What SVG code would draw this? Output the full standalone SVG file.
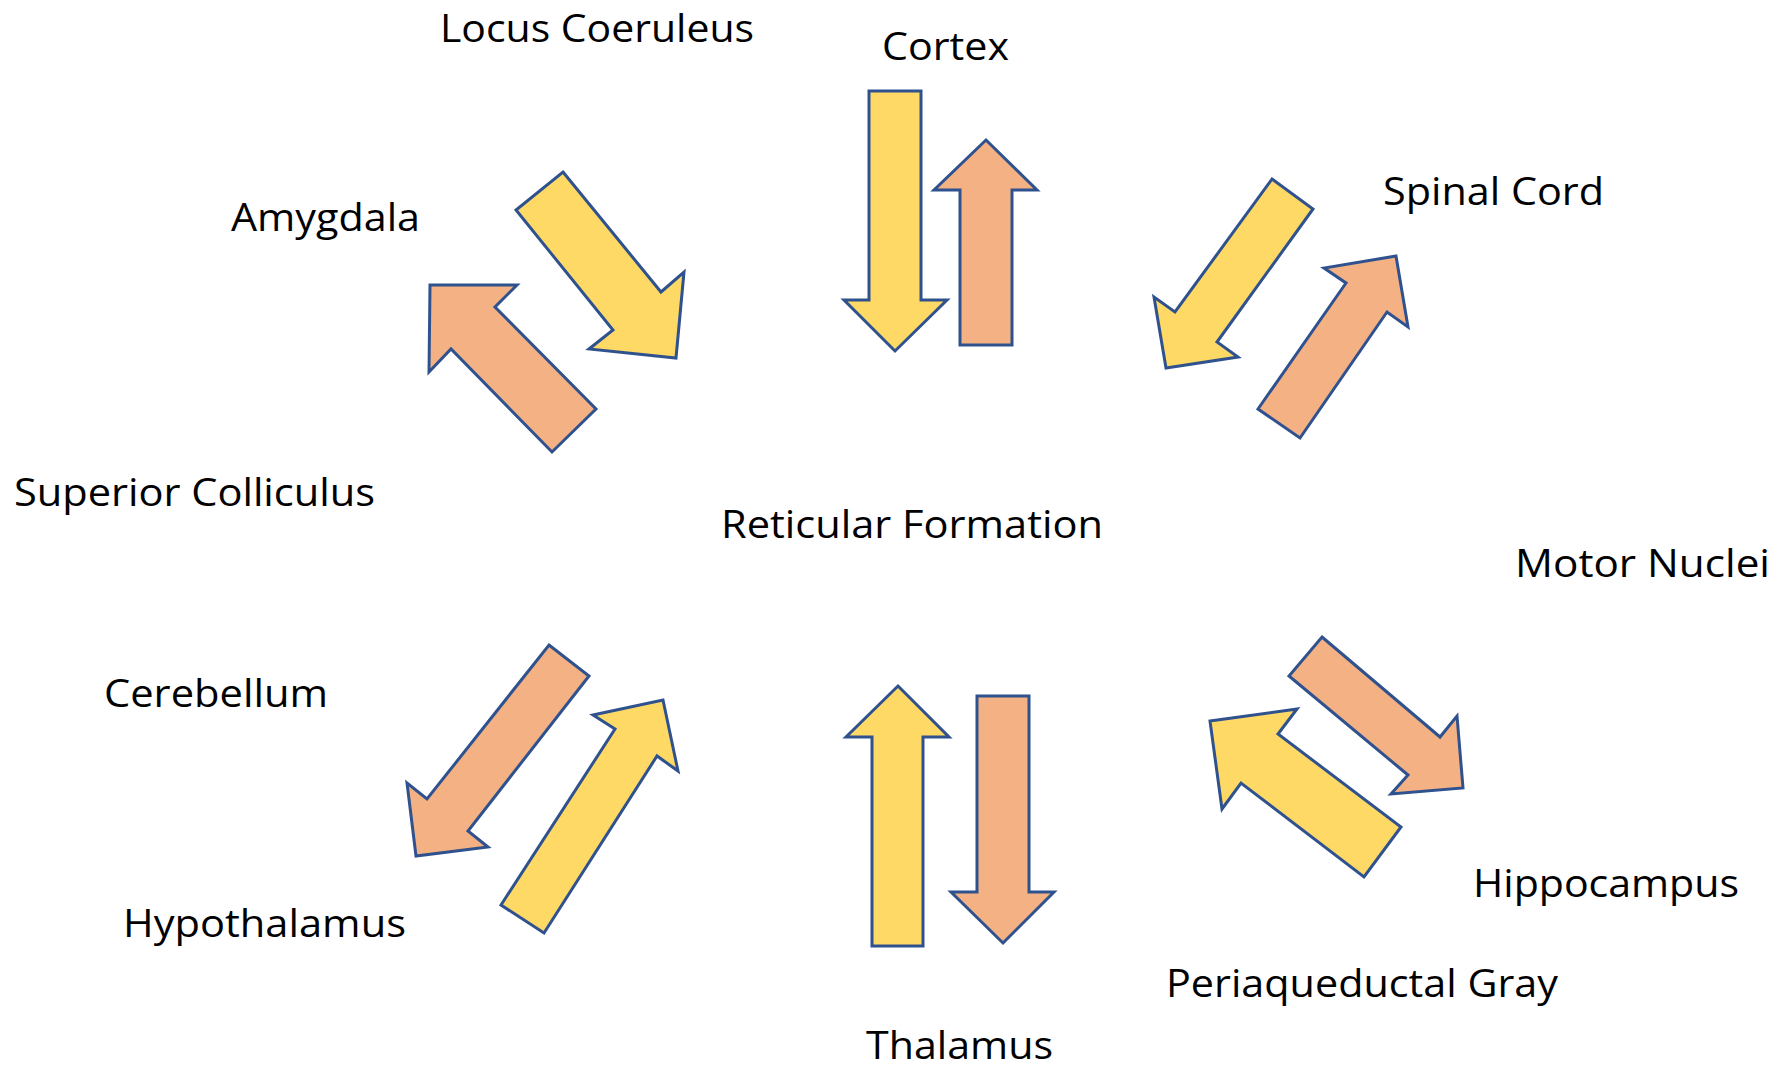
<svg xmlns="http://www.w3.org/2000/svg" width="1783" height="1068" viewBox="0 0 1783 1068">
<style>
.y{fill:#FFD966;stroke:#2F528F;stroke-width:3;stroke-linejoin:miter}
.o{fill:#F4B183;stroke:#2F528F;stroke-width:3;stroke-linejoin:miter}
text{font-family:"Open Sans","Noto Sans","Liberation Sans",sans-serif;font-size:38px;fill:#000}
</style>
<rect width="1783" height="1068" fill="#fff"/>
<g id="connectors">
<polygon class="y" points="563,172 661,292 684,272 676,358 589,349 613,330 516,210"/>
<polygon class="o" points="430,285 517,285 495,307 596,409 552,452 451,349 429,372"/>
<polygon class="y" points="869,91 921,91 921,300 947,300 895,351 844,300 869,300"/>
<polygon class="o" points="986,140 1037,190 1012,190 1012,345 960,345 960,190 934,190"/>
<polygon class="y" points="1272,179 1313,209 1217,342 1238,357 1166,368 1154,297 1175,312"/>
<polygon class="o" points="1396,256 1408,327 1387,312 1300,438 1258,409 1346,283 1324,268"/>
<polygon class="o" points="549,645 589,676 468,831 488,847 416,856 407,783 427,799"/>
<polygon class="y" points="663,700 678,771 657,756 544,933 501,905 615,729 593,715"/>
<polygon class="y" points="898,686 949,737 923,737 923,946 872,946 872,737 846,737"/>
<polygon class="o" points="977,696 1029,696 1029,892 1054,892 1003,943 951,892 977,892"/>
<polygon class="o" points="1322,637 1440,737 1457,716 1463,788 1391,794 1408,775 1289,676"/>
<polygon class="y" points="1210,721 1297,709 1278,734 1401,827 1364,877 1241,783 1222,809"/>
</g>
<g id="reticular-formation"><text x="721" y="538" textLength="382" lengthAdjust="spacingAndGlyphs">Reticular Formation</text></g>
<g id="locus-coeruleus"><text x="440" y="42" textLength="314" lengthAdjust="spacingAndGlyphs">Locus Coeruleus</text></g>
<g id="cortex"><text x="882" y="60" textLength="127" lengthAdjust="spacingAndGlyphs">Cortex</text></g>
<g id="amygdala"><text x="231" y="231" textLength="189" lengthAdjust="spacingAndGlyphs">Amygdala</text></g>
<g id="spinal-cord"><text x="1383" y="205" textLength="221" lengthAdjust="spacingAndGlyphs">Spinal Cord</text></g>
<g id="superior-colliculus"><text x="14" y="506" textLength="361" lengthAdjust="spacingAndGlyphs">Superior Colliculus</text></g>
<g id="motor-nuclei"><text x="1515" y="577" textLength="255" lengthAdjust="spacingAndGlyphs">Motor Nuclei</text></g>
<g id="cerebellum"><text x="104" y="707" textLength="224" lengthAdjust="spacingAndGlyphs">Cerebellum</text></g>
<g id="hippocampus"><text x="1473" y="897" textLength="266" lengthAdjust="spacingAndGlyphs">Hippocampus</text></g>
<g id="hypothalamus"><text x="123" y="937" textLength="283" lengthAdjust="spacingAndGlyphs">Hypothalamus</text></g>
<g id="periaqueductal-gray"><text x="1166" y="997" textLength="392" lengthAdjust="spacingAndGlyphs">Periaqueductal Gray</text></g>
<g id="thalamus"><text x="866" y="1059" textLength="187" lengthAdjust="spacingAndGlyphs">Thalamus</text></g>
</svg>
